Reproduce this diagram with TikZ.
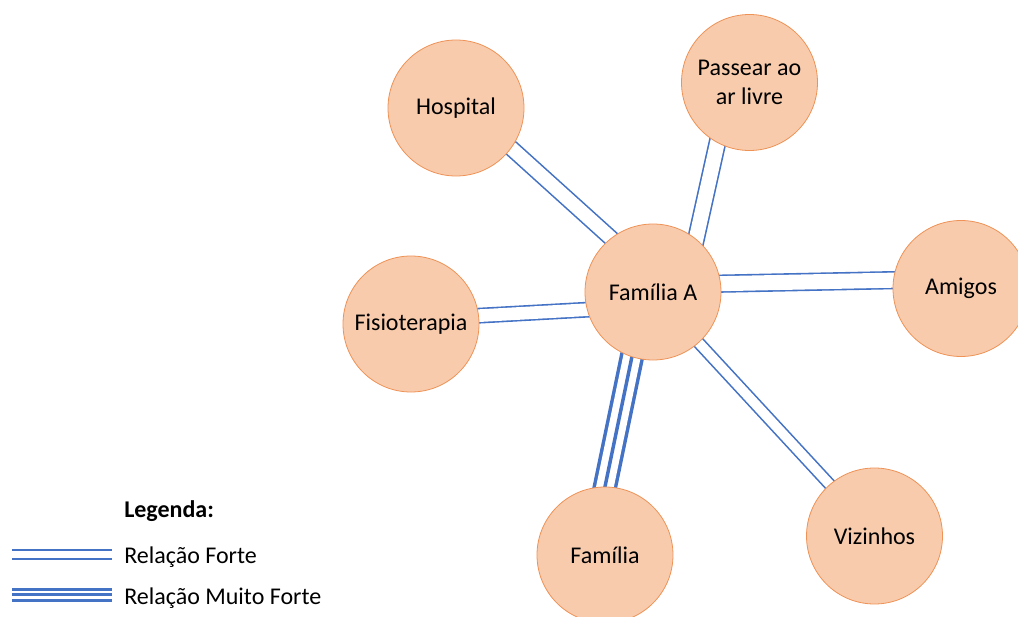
\documentclass[tikz,border=0pt]{standalone}
\usepackage{fontspec}
\setmainfont{Carlito}
\usepackage{xcolor}
\usetikzlibrary{backgrounds}

\begin{document}
\begin{tikzpicture}[x=0.75pt,y=0.75pt,yscale=-1,xscale=1,
	circ/.style={circle, draw={rgb, 255:red, 238; green, 146; blue, 86 }, line width=0.6pt, fill={rgb, 255:red, 248; green, 203; blue, 173 }, minimum size=102pt, inner sep=0pt, align=center, font=\fontsize{18}{21.6}\selectfont},
	forte/.style={draw={rgb, 255:red, 68; green, 114; blue, 196 }, line width=1.2pt, double=white, shorten <=-4pt, shorten >=-4pt},
	muitoforte/.style={draw={rgb, 255:red, 68; green, 114; blue, 196 }, line width=2.6pt, shorten <=-4pt, shorten >=-4pt},
	legtxt/.style={anchor=base west, inner sep=0.75pt, font=\fontsize{18}{21}\selectfont}]
		\useasboundingbox (0,0) rectangle (1018,617);
		\clip (0,0) rectangle (1018,617);
		
		%Shape: Circle
		\node [circ] (fa) at (653,292) {Família A};
		%Shape: Circle
		\node [circ] (hosp) at (456,108) {Hospital};
		%Shape: Circle
		\node [circ] (pass) at (749.5,82.5) {Passear ao\\ar livre};
		%Shape: Circle
		\node [circ] (amig) at (961,288.5) {Amigos};
		%Shape: Circle
		\node [circ] (fisio) at (411,324) {Fisioterapia};
		%Shape: Circle
		\node [circ] (viz) at (874.5,536) {Vizinhos};
		%Shape: Circle
		\node [circ] (fam) at (605,555) {Família};
		
		%Straight Lines
		\begin{scope}[on background layer]
		\draw [forte, double distance=10.2pt] (hosp.-36) -- (fa.128);
		\draw [forte, double distance=11pt] (pass.-118) -- (fa.51);
		\draw [forte, double distance=11.3pt] (fa.7) -- (amig.173);
		\draw [forte, double distance=9.5pt] (fisio.7) -- (fa.195);
		\draw [forte, double distance=7.2pt] (fa.-48) -- (viz.131);
		\draw [muitoforte, double=white, double distance=13.1pt] (fa.-108) -- (fam.90);
		\draw [muitoforte] (fa.-108) -- (fam.90);
		\end{scope}
		
		% Text Node
		\node [legtxt, font=\fontsize{18}{21}\selectfont\bfseries] (leg) at (123,517) {Legenda:};
		% Text Node
		\node [legtxt] (lforte) at (123,563) {Relação Forte};
		% Text Node
		\node [legtxt] (lmuito) at (123,604) {Relação Muito Forte};
		
		\coordinate (fa1) at (12,554.5);
		\coordinate (fa2) at (112,554.5);
		\coordinate (mf1) at (12,594.7);
		\coordinate (mf2) at (112,594.7);
		\draw [forte, line width=1pt, double distance=5.8pt, shorten <=0pt, shorten >=0pt] (fa1) -- (fa2);
		\draw [muitoforte, line width=2.2pt, double=white, double distance=6.3pt, shorten <=0pt, shorten >=0pt] (mf1) -- (mf2);
		\draw [muitoforte, line width=2.2pt, shorten <=0pt, shorten >=0pt] (mf1) -- (mf2);
\end{tikzpicture}
\end{document}
